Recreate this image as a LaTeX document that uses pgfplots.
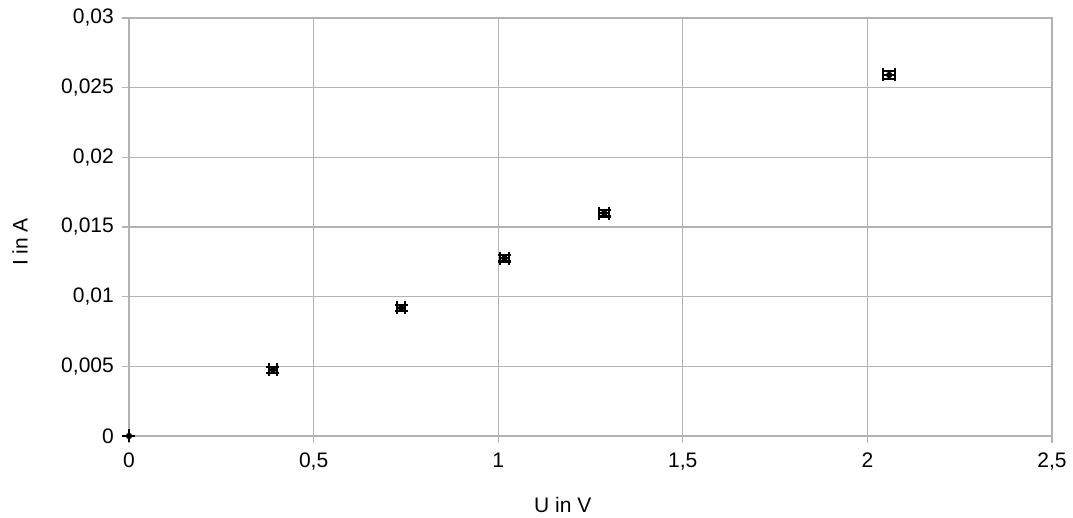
\documentclass[border=0pt]{standalone}
\usepackage{fontspec}
\setmainfont{Liberation Sans}
\usepackage{pgfplots}
\pgfplotsset{compat=1.18}
\definecolor{gridgray}{HTML}{B3B3B3}
\begin{document}
\fontsize{21}{25}\selectfont
\begin{tikzpicture}
\begin{axis}[
  at={(0pt,0pt)}, anchor=south west,
  scale only axis, width=923pt, height=418pt,
  xmin=0, xmax=2.5, ymin=0, ymax=0.03,
  xtick={0,0.5,1,1.5,2,2.5},
  ytick={0,0.005,0.01,0.015,0.02,0.025,0.03},
  scaled x ticks=false, scaled y ticks=false,
  /pgf/number format/assume math mode=true,
  /pgf/number format/use comma,
  /pgf/number format/fixed,
  /pgf/number format/precision=3,
  grid=major,
  major grid style={gridgray, line width=1.3pt},
  axis line style={gridgray, line width=1.3pt},
  tick style={gridgray, line width=1.3pt},
  tick align=outside, major tick length=7pt,
  xtick pos=bottom, ytick pos=left,
  tick label style={font=\fontsize{21}{25}\selectfont, text=black},
  xticklabel style={yshift=-3pt},
  yticklabel style={xshift=-1pt},
  xlabel={U in V}, ylabel={I in A},
  label style={font=\fontsize{21}{25}\selectfont},
  xlabel style={at={(axis description cs:0.47,-0.165)}, anchor=center},
  ylabel style={at={(axis description cs:-0.118,0.464)}, anchor=center, rotate=0},
  clip=false,
]
\addplot[black, line width=2.2pt, only marks, mark=none,
  error bars/.cd,
  x dir=both, x explicit, y dir=both, y explicit,
  error bar style={black, line width=2.2pt},
  error mark options={black, line width=2.2pt, mark size=6.5pt, rotate=90},
] coordinates {
  (0,0) +- (0.0003,0.000005)
  (0.390,0.00476) +- (0.0108,0.000215)
  (0.737,0.00919) +- (0.011,0.00022)
  (1.017,0.01275) +- (0.012,0.00022)
  (1.287,0.0160) +- (0.0135,0.00024)
  (2.059,0.02591) +- (0.016,0.0003)
};
\end{axis}
\pgfresetboundingbox
\path (-129pt,-82pt) rectangle (944pt,436pt);
\end{tikzpicture}
\end{document}
